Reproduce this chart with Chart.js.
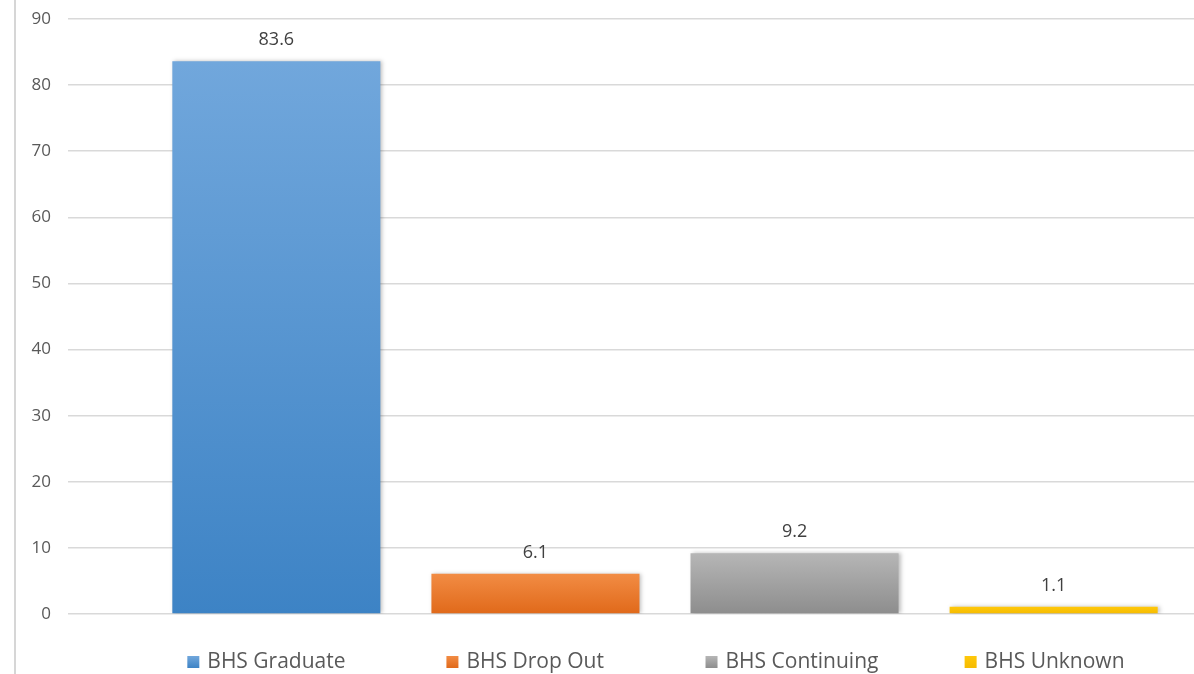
<!DOCTYPE html>
<html>
<head>
<meta charset="utf-8">
<script src="https://cdn.jsdelivr.net/npm/chart.js@4"></script>
<style>
  html, body { margin: 0; padding: 0; background: #fff; overflow: hidden; }
  #wrap { position: relative; width: 1194px; height: 674px; overflow: hidden; }
  #frame { position: absolute; left: 14px; top: 0; width: 0; height: 674px; border-left: 2px solid #d6d6d6; }
  #chart { position: absolute; left: 0; top: 0; }
</style>
</head>
<body>
<div id="wrap">
  <canvas id="chart" width="1272" height="674"></canvas>
  <div id="frame"></div>
</div>
<script>
// values
let categories = [""];
let seriesNames = ["BHS Graduate", "BHS Drop Out", "BHS Continuing", "BHS Unknown"];
let seriesValues = [83.6, 6.1, 9.2, 1.1];
let yTicks = [0, 10, 20, 30, 40, 50, 60, 70, 80, 90];

let topColors = ["#71a7dc", "#f28c44", "#b6b6b6", "#ffc80a"];
let bottomColors = ["#3d83c5", "#e0691a", "#8d8d8d", "#f5bb00"];

function barGradient(i) {
  return (ctx) => {
    let chart = ctx.chart;
    if (!chart.chartArea) return topColors[i];
    let yScale = chart.scales.y;
    let top = yScale.getPixelForValue(seriesValues[i]);
    let bottom = yScale.getPixelForValue(0);
    if (bottom - top < 2) return topColors[i];
    let g = chart.ctx.createLinearGradient(0, top, 0, bottom);
    g.addColorStop(0, topColors[i]);
    g.addColorStop(1, bottomColors[i]);
    return g;
  };
}

let datasets = seriesNames.map((name, i) => ({
  label: name,
  data: [seriesValues[i]],
  backgroundColor: barGradient(i),
  borderWidth: 0,
  barPercentage: 0.803,
  categoryPercentage: 0.868
}));

// value labels above bars + legend lined up under each bar
const labelsAndLegend = {
  id: 'labelsAndLegend',
  beforeDatasetsDraw(chart) {
    let c = chart.ctx;
    c.save();
    c.shadowColor = 'rgba(0,0,0,0.25)';
    c.shadowBlur = 4;
    c.shadowOffsetX = 2;
    c.shadowOffsetY = 0;
  },
  afterDatasetsDraw(chart) {
    chart.ctx.restore();
  },
  afterDraw(chart) {
    let c = chart.ctx;
    c.save();
    chart.data.datasets.forEach((ds, i) => {
      let bar = chart.getDatasetMeta(i).data[0];
      if (!bar) return;
      c.font = '18px "Open Sans"';
      c.fillStyle = '#404040';
      c.textAlign = 'center';
      c.textBaseline = 'middle';
      c.fillText(String(ds.data[0]), bar.x, bar.y - 21);

      let left = bar.x - bar.width / 2;
      let g = c.createLinearGradient(0, 656, 0, 668);
      g.addColorStop(0, topColors[i]);
      g.addColorStop(1, bottomColors[i]);
      c.fillStyle = g;
      c.fillRect(left + 15, 656, 12, 12);
      c.font = '21px "Open Sans"';
      c.fillStyle = '#595959';
      c.textAlign = 'left';
      c.fillText(ds.label, left + 35, 662);
    });
    c.restore();
  }
};

let ctx = document.getElementById("chart").getContext('2d');

let myChart = new Chart(ctx, {
  type: 'bar',
  data: {
    labels: categories,
    datasets: datasets
  },
  options: {
    responsive: false,
    animation: false,
    layout: { padding: { top: 19, right: 10, bottom: 60, left: 0 } },
    plugins: {
      legend: { display: false },
      tooltip: { enabled: false }
    },
    scales: {
      x: {
        display: false
      },
      y: {
        min: 0,
        max: 90,
        afterBuildTicks: (scale) => { scale.ticks = yTicks.map(v => ({ value: v })); },
        afterFit: (scale) => {
          scale.width = 68;
          scale.paddingTop = 0;
          scale.paddingBottom = 0;
        },
        border: { display: false },
        grid: { color: '#d9d9d9', lineWidth: 1.5, drawTicks: false },
        ticks: {
          padding: 17,
          color: '#595959',
          font: { family: 'Open Sans', size: 17 }
        }
      }
    }
  },
  plugins: [labelsAndLegend]
});
</script>
</body>
</html>
